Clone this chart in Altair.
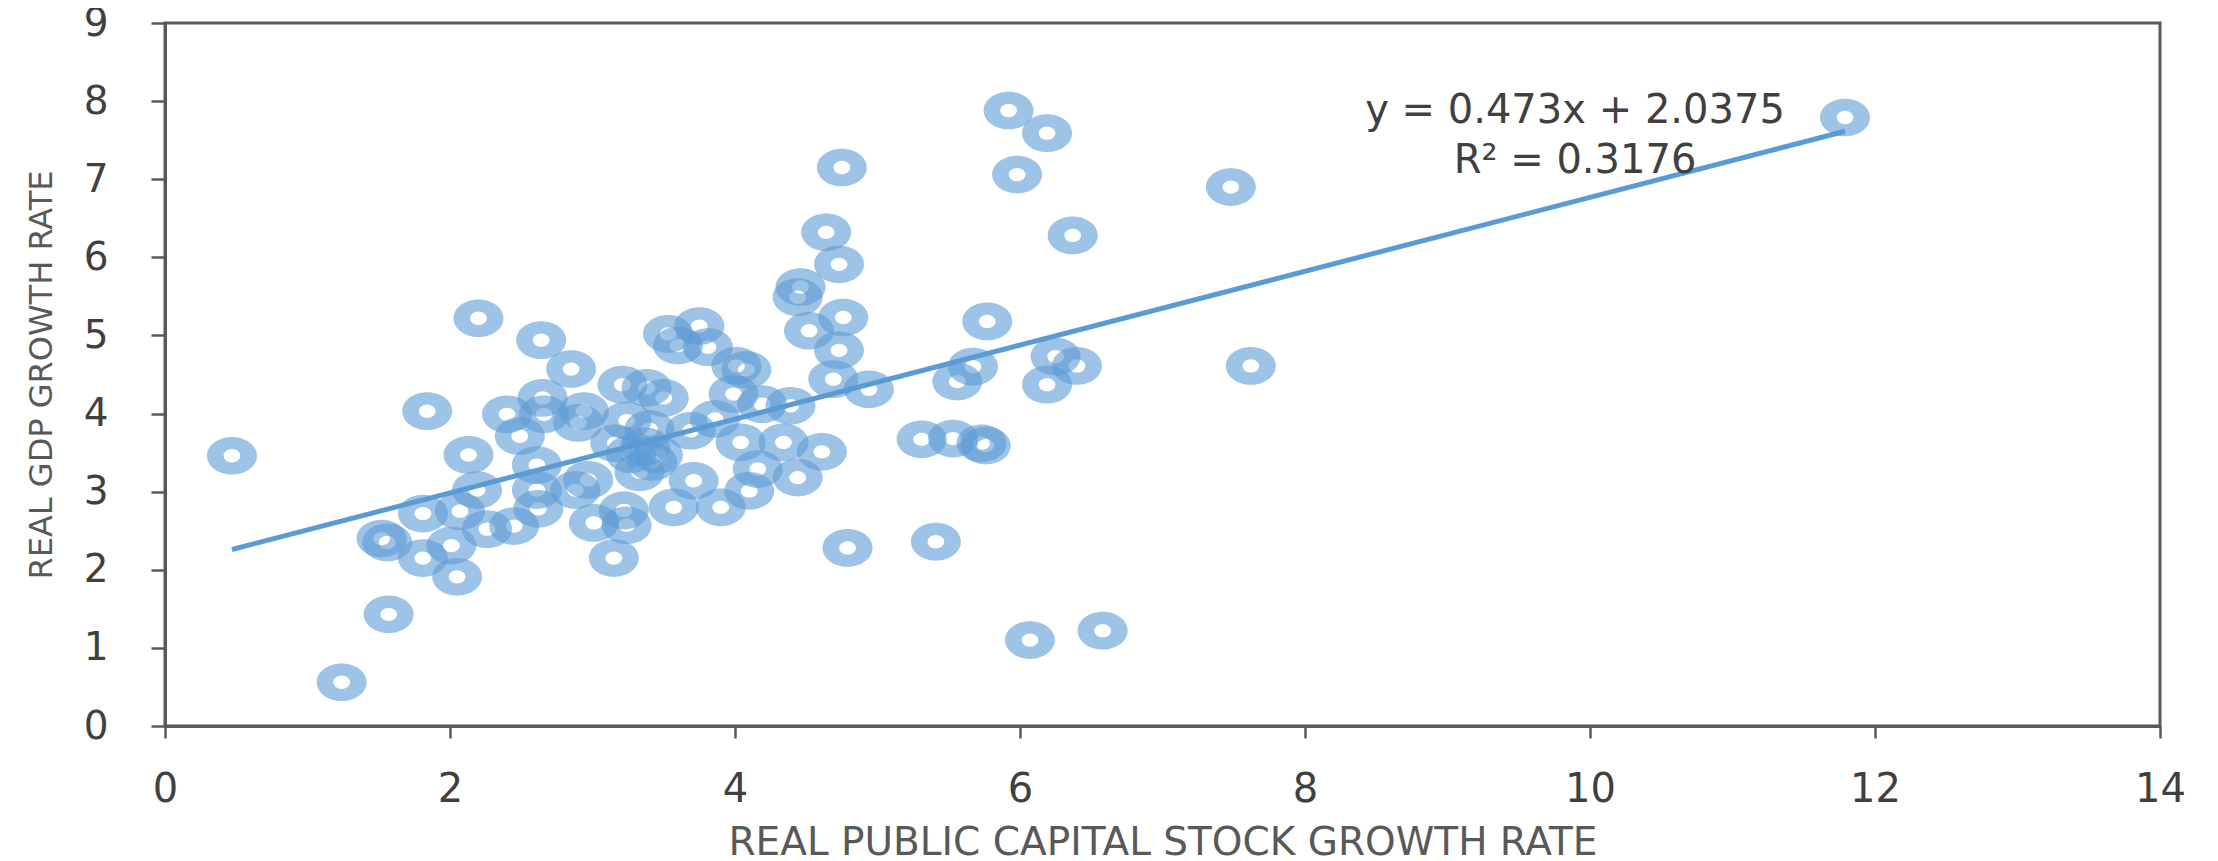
import altair as alt
import pandas as pd

# ---- data ----
capital_growth = [
    0.47, 1.24, 1.57, 1.52, 1.56, 1.81, 1.81, 1.84, 2.05, 2.01,
    2.13, 2.20, 2.07, 2.19, 2.26, 2.45, 2.40, 2.49, 2.61, 2.61,
    2.62, 2.64, 2.65, 2.66, 2.85, 2.94, 2.90, 2.88, 2.97, 3.01,
    3.15, 3.21, 3.24, 3.16, 3.27, 3.37, 3.40, 3.38, 3.50, 3.46,
    3.33, 3.42, 3.24, 3.22, 3.53, 3.60, 3.75, 3.81, 3.57, 3.71,
    3.69, 3.90, 3.86, 3.99, 4.01, 4.08, 4.19, 4.39, 4.04, 4.34,
    4.16, 4.10, 4.44, 4.44, 4.46, 4.52, 4.61, 4.64, 4.75, 4.73,
    4.76, 4.73, 4.69, 4.79, 4.94, 5.31, 5.41, 5.53, 5.56, 5.67,
    5.73, 5.76, 5.77, 5.92, 5.98, 6.19, 6.25, 6.19, 6.37, 6.40,
    6.07, 6.58, 7.48, 7.62, 11.79,
]
gdp_growth = [
    3.46, 0.56, 1.43, 2.40, 2.35, 2.72, 2.15, 4.03, 1.91, 2.31,
    3.47, 5.22, 2.75, 3.02, 2.52, 2.56, 3.99, 3.71, 3.34, 3.02,
    2.78, 4.94, 4.20, 3.99, 4.57, 4.03, 3.88, 3.02, 3.15, 2.60,
    2.15, 4.37, 3.91, 3.62, 3.48, 3.58, 3.80, 4.33, 4.20, 3.47,
    3.25, 3.38, 2.57, 2.76, 5.02, 4.87, 5.12, 4.85, 2.80, 3.14,
    3.78, 2.80, 3.93, 4.25, 4.61, 4.56, 4.12, 4.10, 3.63, 3.63,
    3.29, 3.01, 3.18, 5.49, 5.62, 5.06, 3.51, 6.32, 7.15, 5.91,
    5.23, 4.81, 4.44, 2.28, 4.31, 3.67, 2.36, 3.68, 4.41, 4.60,
    3.62, 3.59, 5.18, 7.88, 7.06, 7.59, 4.73, 4.37, 6.28, 4.61,
    1.10, 1.22, 6.90, 4.61, 7.79,
]
slope = 0.473
intercept = 2.0375
equation_label = "y = 0.473x + 2.0375"
r2_label = "R\u00b2 = 0.3176"
x_ticks = [0, 2, 4, 6, 8, 10, 12, 14]
y_ticks = [0, 1, 2, 3, 4, 5, 6, 7, 8, 9]
x_title = "REAL PUBLIC CAPITAL STOCK GROWTH RATE"
y_title = "REAL GDP GROWTH RATE"

points_df = pd.DataFrame({"x": capital_growth, "y": gdp_growth})
fit_df = pd.DataFrame({"x": [min(capital_growth), max(capital_growth)]})
label_df = pd.DataFrame({"eq": [equation_label], "r2": [r2_label]})

FONT = "DejaVu Sans"
BLUE = "#5B9BD5"
GREY = "#595959"
DARK = "#404040"

# elliptical ring symbol: outer ellipse clockwise, inner hole counter-clockwise
ring = ("M -1 0 C -1 -0.416 -0.552 -0.754 0 -0.754 "
        "C 0.552 -0.754 1 -0.416 1 0 "
        "C 1 0.416 0.552 0.754 0 0.754 "
        "C -0.552 0.754 -1 0.416 -1 0 Z "
        "M -0.334 0 C -0.334 0.147 -0.1845 0.266 0 0.266 "
        "C 0.1845 0.266 0.334 0.147 0.334 0 "
        "C 0.334 -0.147 0.1845 -0.266 0 -0.266 "
        "C -0.1845 -0.266 -0.334 -0.147 -0.334 0 Z")

xs = alt.Scale(domain=[0, 14], nice=False, zero=False)
ys = alt.Scale(domain=[0, 9], nice=False, zero=False)

x_axis = alt.Axis(
    values=x_ticks, format="d", title=x_title, grid=False,
    tickSize=12, labelPadding=31, labelFontSize=40, labelFlush=False,
    titleFontSize=39, titleY=128, titleBaseline="alphabetic",
    titleAnchor="middle",
)
y_axis = alt.Axis(
    values=y_ticks, format="d", title=y_title, grid=False,
    tickSize=14, labelPadding=43, labelFontSize=39, labelFlush=False,
    titleFontSize=32, titleAngle=270, titleX=-114, titleY=351.5,
    titleAlign="center", titleBaseline="alphabetic",
)

points = alt.Chart(points_df).mark_point(
    shape=ring, size=2500, filled=True, fill=BLUE,
    fillOpacity=0.6, strokeWidth=0, opacity=1,
).encode(
    x=alt.X("x:Q", scale=xs, axis=x_axis),
    y=alt.Y("y:Q", scale=ys, axis=y_axis),
)

trend = alt.Chart(fit_df).transform_calculate(
    yfit=f"{slope} * datum.x + {intercept}"
).mark_line(color=BLUE, strokeWidth=5).encode(
    x=alt.X("x:Q", scale=xs),
    y=alt.Y("yfit:Q", scale=ys),
)

eq_text = alt.Chart(label_df).mark_text(
    font=FONT, fontSize=40, color=DARK, align="center", baseline="alphabetic"
).encode(x=alt.value(1410), y=alt.value(100), text="eq:N")

r2_text = alt.Chart(label_df).mark_text(
    font=FONT, fontSize=40, color=DARK, align="center", baseline="alphabetic"
).encode(x=alt.value(1410), y=alt.value(150), text="r2:N")

chart = alt.layer(points, trend, eq_text, r2_text).properties(
    width=1995,
    height=703,
    padding={"left": 157, "top": 15, "right": 40, "bottom": 130},
    autosize=alt.AutoSizeParams(type="none"),
    background="white",
).configure_view(
    stroke=GREY, strokeWidth=3
).configure_axis(
    domainColor=GREY, domainWidth=3, tickColor=GREY, tickWidth=2.5,
    labelColor=DARK, titleColor=GREY, labelFont=FONT, titleFont=FONT,
    titleFontWeight="normal",
)

chart.save("out.html", embed_options={"renderer": "svg", "actions": False})
